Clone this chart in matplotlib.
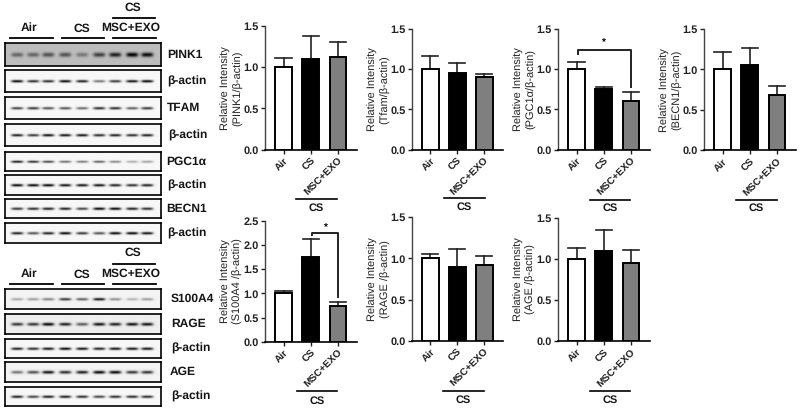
import numpy as np
import matplotlib
matplotlib.use("Agg")
import matplotlib.pyplot as plt

plt.rcParams['font.family'] = ['Liberation Sans', 'DejaVu Sans']
plt.rcParams['text.hinting'] = 'no_hinting'
plt.rcParams['text.hinting_factor'] = 1

W, H = 800, 412

# ========================
# BAR DATA
# ========================
groups = ["Air", "CS", "MSC+EXO"]
pink1_mean = [1.00, 1.10, 1.13]
pink1_top = [1.11, 1.38, 1.31]
tfam_mean = [1.00, 0.95, 0.90]
tfam_top = [1.16, 1.08, 0.94]
pgc_mean = [1.00, 0.75, 0.60]
pgc_top = [1.09, 0.78, 0.72]
becn_mean = [1.00, 1.05, 0.68]
becn_top = [1.21, 1.26, 0.80]
s100_mean = [1.00, 1.75, 0.73]
s100_top = [1.05, 2.13, 0.82]
rage_mean = [1.00, 0.90, 0.92]
rage_top = [1.05, 1.11, 1.03]
age_mean = [1.00, 1.10, 0.95]
age_top = [1.14, 1.35, 1.11]

# ========================
# BLOT DATA (band darkness per lane)
# ========================
blot_pink1 = [.45, .45, .55, .55, .35, .65, .80, .95, .90]
blot_act1 = [.95, .80, .80, .95, .85, .50, .75, .90, .95]
blot_tfam = [.70, .75, .65, .65, .55, .80, .80, .60, .75]
blot_act2 = [.85, .75, .90, .90, .90, .80, .85, .80, .85]
blot_pgc = [.90, .80, .70, .55, .50, .60, .45, .30, .35]
blot_act3 = [.95, .95, .95, .90, .90, .90, .85, .80, .85]
blot_becn = [.75, .80, .85, .85, .70, .95, .95, .85, .80]
blot_act4 = [.85, .65, .85, .95, .75, .65, .95, .95, .90]
blot_s100 = [.30, .35, .45, .75, .60, .90, .40, .25, .35]
blot_rage = [.75, .75, .95, .85, .60, .90, .85, .90, .90]
blot_act5 = [.85, .80, .90, .95, .90, .85, .90, .90, .90]
blot_age = [.50, .65, .90, .80, .85, .95, .95, .75, .75]
blot_act6 = [.85, .70, .85, .85, .80, .70, .80, .80, .80]

LANES = [17, 33, 48, 65, 82, 99, 115, 132, 147]


def px_axes(x0, y0, x1, y1):
    # pixel box (top-left origin) to figure axes
    return fig.add_axes([x0 / W, 1 - y1 / H, (x1 - x0) / W, (y1 - y0) / H])


def px_line(x0, x1, y, lw=1.3):
    fig.add_artist(plt.Line2D([x0 / W, x1 / W], [1 - y / H, 1 - y / H], color="black", lw=lw))


def px_text(x, y, s, **kw):
    kw.setdefault("ha", "center")
    kw.setdefault("va", "center")
    kw.setdefault("color", "#151515")
    fig.text(x / W, 1 - y / H, s, **kw)


def draw_blot(box, bands, label, label_x, bg=0.97, band_h=1.25):
    x0, y0, x1, y1 = box
    ax = px_axes(x0, y0, x1, y1)
    xs = np.arange(x0, x1, 0.5)
    ys = np.arange(y0, y1, 0.5)
    xx, yy = np.meshgrid(xs, ys)
    img = np.full(xx.shape, bg)
    ymid = (y0 + y1) / 2
    for cx, strength in zip(LANES, bands):
        shape = np.exp(-((xx - cx) / 6.0) ** 4) * np.exp(-((yy - ymid) / band_h) ** 2)
        img -= shape * strength * bg * 1.05
    ax.imshow(np.clip(img, 0, 1), cmap="gray", vmin=0, vmax=1, aspect="auto", interpolation="bilinear")
    ax.set_xticks([])
    ax.set_yticks([])
    for s in ax.spines.values():
        s.set_linewidth(1.2)
    px_text(label_x, (y0 + y1) / 2, label, ha="left", fontsize=8.8, fontweight="bold")


def draw_bars(box, mean, top, ylabel, ymax=1.5, step=0.5):
    x0, y0, x1, y1 = box
    ax = px_axes(x0, y0, x1, y1)
    ax.patch.set_alpha(0)
    colors = ["white", "black", "#7f7f7f"]
    xpos = np.arange(len(groups))
    for i in xpos:
        ax.plot([i, i], [mean[i], top[i]], color="#222222", lw=1.2, zorder=1)
        ax.plot([i - 0.3, i + 0.3], [top[i], top[i]], color="#222222", lw=1.2, zorder=1)
    ax.bar(xpos, mean, width=0.62, color=colors, edgecolor="black", linewidth=1.4, zorder=2)
    ax.set_xlim(-0.68, 2.7)
    ax.set_ylim(0, ymax)
    ax.set_yticks(np.arange(0, ymax + 0.01, step))
    ax.set_yticklabels([f"{v:.1f}" for v in np.arange(0, ymax + 0.01, step)],
                       fontsize=7.8, fontweight="bold", color="#222222")
    ax.set_xticks(xpos)
    ax.set_xticklabels(groups, rotation=45, ha="right", rotation_mode="anchor",
                       fontsize=7.2, fontweight="bold", color="#222222")
    ax.tick_params(axis="both", length=3.2, width=1, pad=1.5, color="#222222")
    ax.spines["top"].set_visible(False)
    ax.spines["right"].set_visible(False)
    ax.spines["left"].set_linewidth(1)
    ax.spines["left"].set_color("#444444")
    ax.spines["bottom"].set_linewidth(1.2)
    ax.set_ylabel(ylabel, fontsize=8, color="#222222", va="center", linespacing=1.3)
    ax.yaxis.set_label_coords(-0.36, 0.5)
    return ax


fig = plt.figure(figsize=(W / 100, H / 100), dpi=100, facecolor="white")

# ========================
# WESTERN BLOTS
# ========================
draw_blot((5, 43, 161, 66), blot_pink1, "PINK1", 167, bg=0.74, band_h=2.2)
draw_blot((5, 70, 161, 92), blot_act1, "β-actin", 167)
draw_blot((5, 97, 161, 119), blot_tfam, "TFAM", 167)
draw_blot((5, 124, 161, 146), blot_act2, "β-actin", 168)
draw_blot((5, 152, 161, 171), blot_pgc, "PGC1α", 166, band_h=1.1)
draw_blot((5, 175, 161, 195), blot_act3, "β-actin", 167)
draw_blot((5, 199, 161, 218), blot_becn, "BECN1", 166)
draw_blot((5, 223, 161, 243), blot_act4, "β-actin", 167)

draw_blot((5, 289, 161, 309), blot_s100, "S100A4", 171, bg=0.95)
draw_blot((5, 314, 161, 334), blot_rage, "RAGE", 171, bg=0.93, band_h=1.5)
draw_blot((5, 339, 161, 358), blot_act5, "β-actin", 171)
draw_blot((5, 362, 161, 382), blot_age, "AGE", 170, bg=0.95, band_h=1.5)
draw_blot((5, 387, 161, 406), blot_act6, "β-actin", 171)

for cs_y, line_y, lab_y, low_y in [(8, 18, 28, 38), (253, 264, 274, 284)]:
    px_text(133, cs_y, "CS", fontsize=8.8, fontweight="bold")
    px_line(113, 155, line_y)
    px_text(29, lab_y, "Air", fontsize=8.8, fontweight="bold")
    px_text(82, lab_y + 1, "CS", fontsize=8.8, fontweight="bold")
    px_text(131, lab_y, "MSC+EXO", fontsize=8.8, fontweight="bold")
    px_line(10, 53, low_y)
    px_line(62, 104, low_y)
    px_line(113, 156, low_y)

# ========================
# BAR PANELS
# ========================
draw_bars((265, 26, 357, 149.7), pink1_mean, pink1_top, "Relative Intensity\n(PINK1/β-actin)")
draw_bars((412, 29, 503, 149.7), tfam_mean, tfam_top, "Relative Intensity\n(Tfam/β-actin)")
ax_pgc = draw_bars((558, 29, 650, 149.7), pgc_mean, pgc_top, "Relative Intensity\n(PGC1α/β-actin)")
draw_bars((704, 29, 796, 150.3), becn_mean, becn_top, "Relative Intensity\n(BECN1/β-actin)")
ax_s100 = draw_bars((265, 221, 357, 341.7), s100_mean, s100_top, "Relative Intensity\n(S100A4 /β-actin)", ymax=2.5)
draw_bars((412, 217.3, 503, 340.7), rage_mean, rage_top, "Relative Intensity\n(RAGE /β-actin)")
draw_bars((558, 218, 650, 341), age_mean, age_top, "Relative Intensity\n(AGE /β-actin)")

# significance brackets
ax_pgc.plot([0.05, 0.05, 2, 2], [1.19, 1.24, 1.24, 0.78], color="#222222", lw=1.4, clip_on=False)
ax_pgc.text(1.0, 1.33, "*", ha="center", va="center", fontsize=7, fontweight="bold")
ax_s100.plot([1.05, 1.05, 2, 2], [2.2, 2.25, 2.25, 0.93], color="#222222", lw=1.4, clip_on=False)
ax_s100.text(1.55, 2.36, "*", ha="center", va="center", fontsize=7, fontweight="bold")

# CS group markers under the x labels
for x0, x1, line_y, lab_y in [(296, 337, 199.3, 208), (444, 485, 198, 207), (590, 630, 200, 208),
                              (736, 777, 200, 208), (297, 337, 391, 401), (443, 484, 391, 400.5),
                              (590, 630, 391, 400.5)]:
    px_line(x0, x1, line_y, lw=1.2)
    px_text((x0 + x1) / 2, lab_y, "CS", fontsize=7.8, fontweight="bold")

fig.savefig("out.png", dpi=100, facecolor="white")
plt.close(fig)
